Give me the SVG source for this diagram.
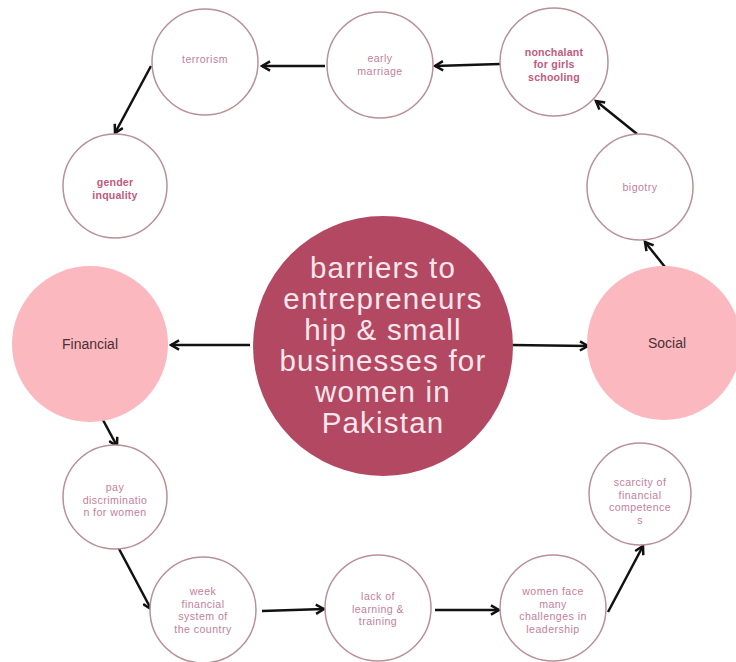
<svg xmlns="http://www.w3.org/2000/svg" width="736" height="662" viewBox="0 0 736 662">
<style>
.n{fill:#ffffff;stroke:#b8909a;stroke-width:1.5}
.t{font-family:"Liberation Sans",Arial,sans-serif;font-size:10.6px;fill:#c4809a;text-anchor:middle;letter-spacing:0.45px}
.b{font-weight:bold;fill:#c05b7d;letter-spacing:0.2px}
.big{fill:#fcb8bf}
.bt{font-family:"Liberation Sans",Arial,sans-serif;font-size:14px;fill:#4a3035;text-anchor:middle}
.ct{font-family:"Liberation Sans",Arial,sans-serif;font-size:29.5px;fill:#fce6ec;text-anchor:middle;letter-spacing:1.2px}
.c{stroke:#111;stroke-width:2.5;fill:none;marker-end:url(#ah)}
</style>
<defs>
<marker id="ah" viewBox="0 0 10 10" refX="8" refY="5" markerWidth="4.6" markerHeight="4.6" orient="auto" markerUnits="strokeWidth">
<path d="M1,1 L8,5 L1,9" fill="none" stroke="#111" stroke-width="2.2"/>
</marker>
</defs>
<rect width="736" height="662" fill="#ffffff"/>
<g id="connectors">
<line class="c" x1="325" y1="66" x2="262" y2="66"/>
<line class="c" x1="500" y1="64" x2="435" y2="66"/>
<line class="c" x1="637" y1="134" x2="596" y2="101"/>
<line class="c" x1="151" y1="66" x2="115" y2="133"/>
<line class="c" x1="665" y1="267" x2="645" y2="242"/>
<line class="c" x1="250" y1="345" x2="171" y2="345"/>
<line class="c" x1="512" y1="345" x2="588" y2="346"/>
<line class="c" x1="103" y1="420" x2="117" y2="446"/>
<line class="c" x1="118" y1="547" x2="151" y2="609"/>
<line class="c" x1="262" y1="611" x2="324" y2="609"/>
<line class="c" x1="435" y1="610" x2="499" y2="610"/>
<line class="c" x1="608" y1="612" x2="643" y2="546"/>
</g>
<g id="center">
<circle cx="383" cy="346" r="130" fill="#b24862"/>
<text class="ct" x="383" y="278">barriers to</text>
<text class="ct" x="383" y="309">entrepreneurs</text>
<text class="ct" x="383" y="340">hip &amp; small</text>
<text class="ct" x="383" y="371">businesses for</text>
<text class="ct" x="383" y="402">women in</text>
<text class="ct" x="383" y="433">Pakistan</text>
</g>
<g id="financial">
<circle class="big" cx="90" cy="344" r="78"/>
<text class="bt" x="90" y="349">Financial</text>
</g>
<g id="social">
<circle class="big" cx="664" cy="343" r="77"/>
<text class="bt" x="667" y="348">Social</text>
</g>
<g id="terrorism">
<circle class="n" cx="205" cy="62" r="53"/>
<text class="t" x="205" y="63">terrorism</text>
</g>
<g id="early-marriage">
<circle class="n" cx="380" cy="65" r="53"/>
<text class="t" x="380" y="62">early</text>
<text class="t" x="380" y="74.5">marriage</text>
</g>
<g id="nonchalant">
<circle class="n" cx="554" cy="62" r="54"/>
<text class="t b" x="554" y="55.5">nonchalant</text>
<text class="t b" x="554" y="68">for girls</text>
<text class="t b" x="554" y="80.5">schooling</text>
</g>
<g id="bigotry">
<circle class="n" cx="640" cy="187" r="53"/>
<text class="t" x="640" y="191">bigotry</text>
</g>
<g id="gender-inquality">
<circle class="n" cx="115" cy="186" r="52"/>
<text class="t b" x="115" y="186">gender</text>
<text class="t b" x="115" y="198.5">inquality</text>
</g>
<g id="pay-discrimination">
<circle class="n" cx="115" cy="497" r="52"/>
<text class="t" x="115" y="491">pay</text>
<text class="t" x="115" y="503.5">discriminatio</text>
<text class="t" x="115" y="516">n for women</text>
</g>
<g id="week-financial">
<circle class="n" cx="203" cy="610" r="53"/>
<text class="t" x="203" y="595">week</text>
<text class="t" x="203" y="607.5">financial</text>
<text class="t" x="203" y="620">system of</text>
<text class="t" x="203" y="632.5">the country</text>
</g>
<g id="lack-of-learning">
<circle class="n" cx="378" cy="608" r="53"/>
<text class="t" x="378" y="600">lack of</text>
<text class="t" x="378" y="612.5">learning &amp;</text>
<text class="t" x="378" y="625">training</text>
</g>
<g id="women-face">
<circle class="n" cx="553" cy="608" r="53"/>
<text class="t" x="553" y="595">women face</text>
<text class="t" x="553" y="607.5">many</text>
<text class="t" x="553" y="620">challenges in</text>
<text class="t" x="553" y="632.5">leadership</text>
</g>
<g id="scarcity">
<circle class="n" cx="640" cy="494" r="51"/>
<text class="t" x="640" y="486">scarcity of</text>
<text class="t" x="640" y="498.5">financial</text>
<text class="t" x="640" y="511">competence</text>
<text class="t" x="640" y="523.5">s</text>
</g>
</svg>
